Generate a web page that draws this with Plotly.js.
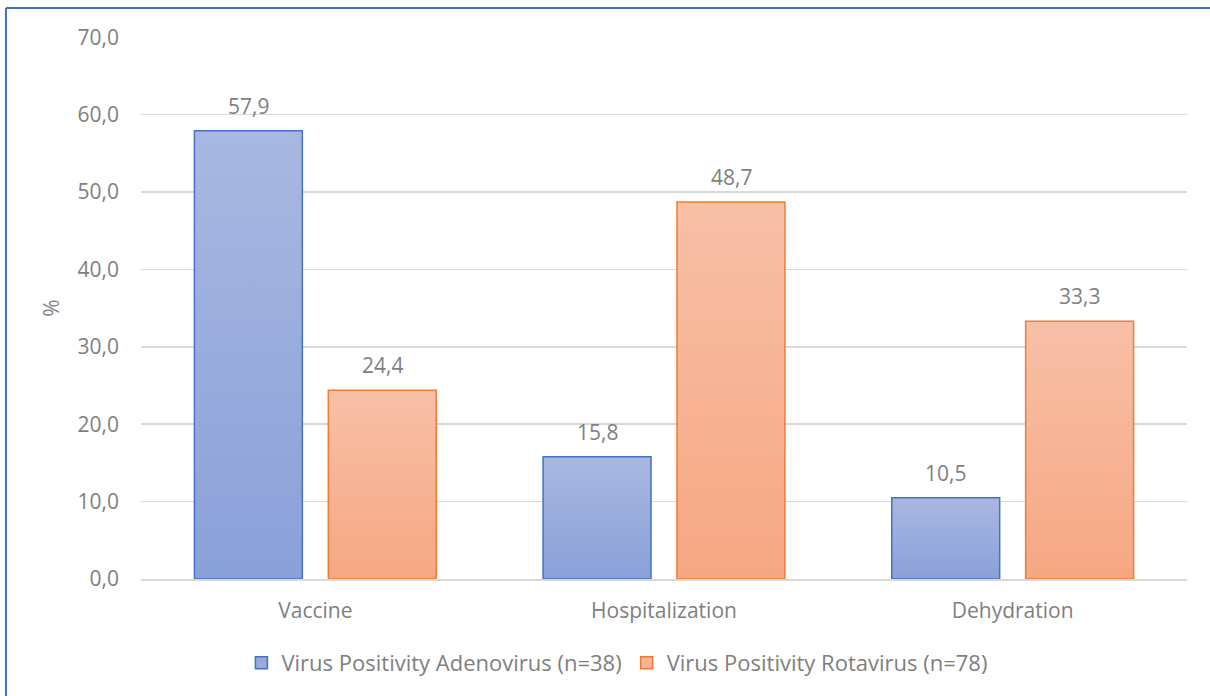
<!DOCTYPE html>
<html>
<head>
<meta charset="utf-8">
<script src="https://cdn.plot.ly/plotly-3.0.1.min.js"></script>
<style>
html,body{margin:0;padding:0;background:#fff;}
#chart{width:1210px;height:696px;}
</style>
</head>
<body>
<div id="chart"></div>
<script>
const categories = ['Vaccine', 'Hospitalization', 'Dehydration'];
const adenoValues = [57.9, 15.8, 10.5];
const rotaValues = [24.4, 48.7, 33.3];
const seriesNames = ['Virus Positivity Adenovirus (n=38)', 'Virus Positivity Rotavirus (n=78)'];
const yTickVals = [0, 10, 20, 30, 40, 50, 60, 70];

const fontFam = '"Open Sans", "Noto Sans", sans-serif';
const gray = '#7f7f7f';
const fs = 21;

function fmt(v){ return v.toFixed(1).replace('.', ','); }

const traces = [
  {
    type: 'bar', name: seriesNames[0], x: categories, y: adenoValues,
    marker: {color: '#99abdd', line: {color: '#4472c4', width: 1.5}},
    hoverinfo: 'skip'
  },
  {
    type: 'bar', name: seriesNames[1], x: categories, y: rotaValues,
    marker: {color: '#f7b394', line: {color: '#ed7d31', width: 1.5}},
    hoverinfo: 'skip'
  }
];

const annotations = [];
[adenoValues, rotaValues].forEach(function(vals, t){
  vals.forEach(function(v, i){
    annotations.push({
      x: categories[i], y: v, xref: 'x', yref: 'y',
      text: fmt(v), showarrow: false, yanchor: 'bottom',
      xshift: t === 0 ? -67 : 67, yshift: 9,
      font: {family: fontFam, size: fs, color: gray}
    });
  });
});

const layout = {
  width: 1210, height: 696,
  margin: {l: 141, r: 23, t: 37, b: 117},
  paper_bgcolor: '#ffffff', plot_bgcolor: '#ffffff',
  font: {family: fontFam, size: fs, color: gray},
  separators: ',.',
  barmode: 'group', bargap: 0.232, bargroupgap: 0.194,
  showlegend: true,
  legend: {
    orientation: 'h', x: 0.455, xanchor: 'center', y: -0.155, yanchor: 'middle',
    font: {family: fontFam, size: 22, color: gray}, itemwidth: 30, traceorder: 'normal'
  },
  xaxis: {
    type: 'category', showgrid: false, zeroline: false,
    showline: true, linecolor: '#d9d9d9', linewidth: 1.5,
    ticks: '', ticklabelstandoff: 12, tickfont: {family: fontFam, size: fs, color: gray}
  },
  yaxis: {
    range: [0, 70.02], tickvals: yTickVals, tickformat: '.1f',
    showgrid: true, gridcolor: '#d9d9d9', gridwidth: 1.5,
    zeroline: false, showline: false, ticks: '', ticklen: 0,
    ticklabelstandoff: 21,
    tickfont: {family: fontFam, size: fs, color: gray},
    title: {text: '%', font: {family: fontFam, size: fs, color: gray}, standoff: 12}
  },
  annotations: annotations,
  shapes: [
    {type: 'line', xref: 'paper', yref: 'paper', x0: -0.1291, x1: -0.1291, y0: -0.25, y1: 1.0535,
     line: {color: '#4472c4', width: 2}},
    {type: 'line', xref: 'paper', yref: 'paper', x0: -0.1291, x1: 1.07, y0: 1.0535, y1: 1.0535,
     line: {color: '#4472c4', width: 2}}
  ]
};

Plotly.newPlot('chart', traces, layout, {displayModeBar: false, staticPlot: true}).then(function(gd){
  const svg = gd.querySelector('svg.main-svg');
  const ns = 'http://www.w3.org/2000/svg';
  let defs = svg.querySelector('defs');
  if (!defs) { defs = document.createElementNS(ns, 'defs'); svg.insertBefore(defs, svg.firstChild); }
  function grad(id, top, bottom){
    const g = document.createElementNS(ns, 'linearGradient');
    g.setAttribute('id', id);
    g.setAttribute('x1', '0'); g.setAttribute('y1', '0');
    g.setAttribute('x2', '0'); g.setAttribute('y2', '1');
    [[0, top], [1, bottom]].forEach(function(s){
      const st = document.createElementNS(ns, 'stop');
      st.setAttribute('offset', s[0]);
      st.setAttribute('stop-color', s[1]);
      g.appendChild(st);
    });
    defs.appendChild(g);
  }
  grad('gradBlue', '#a9b8e1', '#8aa0d9');
  grad('gradOrange', '#f8c0a8', '#f6a782');
  const traceGroups = gd.querySelectorAll('.barlayer .trace');
  const ids = ['gradBlue', 'gradOrange'];
  traceGroups.forEach(function(tg, i){
    tg.querySelectorAll('path').forEach(function(p){
      p.style.fill = 'url(#' + ids[i] + ')';
      p.style.fillOpacity = 1;
    });
  });
});
</script>
</body>
</html>
